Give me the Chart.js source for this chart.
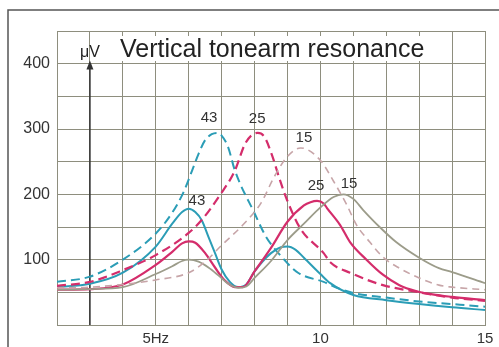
<!DOCTYPE html>
<html>
<head>
<meta charset="utf-8">
<script src="https://cdn.jsdelivr.net/npm/chart.js@4.4.1/dist/chart.umd.min.js"></script>
<style>
  body { margin: 0; background: #fff; }
  canvas { display: block; }
</style>
</head>
<body>
<canvas id="myChart" width="499" height="347"></canvas>
<script>
// frequency (Hz) and amplitude (uV)
const hz43Solid = [2, 3, 4, 5, 5.5, 5.8, 6, 6.2, 6.4, 6.6, 6.8, 7, 7.25, 7.5, 7.75, 8, 8.5, 8.8, 9, 9.25, 9.5, 10, 10.3, 11, 12, 13, 14, 15];
const uv43Solid = [58, 63, 80, 120, 155, 173, 178, 173, 160, 135, 110, 85, 66, 58, 62, 82, 110, 119, 120, 115, 103, 78, 64, 46, 38, 32, 27, 23];

const hz25Solid = [2, 3, 4, 5, 5.5, 5.8, 6, 6.2, 6.5, 6.8, 7.1, 7.4, 7.65, 8, 8.5, 9, 9.5, 9.7, 9.9, 10.1, 10.2, 10.6, 10.9, 11.4, 11.9, 12.4, 12.9, 13.5, 14, 15];
const uv25Solid = [54, 55, 62, 92, 112, 125, 128, 126, 110, 88, 68, 58, 58, 82, 118, 158, 183, 188, 190, 186, 179, 153, 127, 100, 77, 61, 52, 46, 43, 38];

const hz15Solid = [2, 3, 4, 5, 5.5, 5.8, 6, 6.3, 6.6, 6.9, 7.2, 7.5, 7.75, 8, 8.5, 9, 9.5, 10, 10.4, 10.7, 11, 11.3, 11.8, 12.3, 13, 13.6, 14, 15];
const uv15Solid = [54, 55, 58, 78, 90, 98, 100, 97, 88, 76, 63, 57, 59, 72, 98, 130, 155, 180, 196, 200, 193, 176, 150, 127, 103, 87, 81, 64];

const hz43Dash = [2, 3, 4, 5, 5.5, 5.85, 6.1, 6.3, 6.5, 6.7, 6.85, 7, 7.2, 7.4, 8, 8.35, 8.83, 9.32, 10.1, 10.5, 11, 12, 13, 14, 15];
const uv43Dash = [66, 74, 100, 140, 172, 204, 236, 262, 283, 292, 294, 290, 272, 237, 171, 135, 104, 80, 66, 57, 49, 42, 36, 32, 28];

const hz25Dash = [2, 3, 4, 5, 6, 6.4, 6.95, 7.4, 7.7, 7.9, 8.1, 8.3, 8.53, 8.77, 8.99, 9.4, 10.1, 10.3, 10.9, 11.9, 12.9, 14, 15];
const uv25Dash = [60, 66, 84, 107, 141, 161, 199, 236, 276, 290, 294, 288, 260, 222, 191, 147, 110, 96, 80, 61, 51, 42, 37];

const hz15Dash = [2, 3, 4, 5, 6, 6.5, 7, 7.7, 8.2, 8.6, 9, 9.4, 10, 10.4, 10.8, 11.1, 11.5, 11.9, 12.4, 13, 13.6, 14, 15];
const uv15Dash = [57, 58, 62, 69, 80, 97, 122, 156, 187, 227, 258, 271, 252, 220, 184, 153, 127, 104, 87, 72, 61, 58, 54];

const xTickLabels = {5: '5Hz', 10: '10', 15: '15'};
const yTickLabels = [100, 200, 300, 400];

// curve tags: text, Hz, uV
const curveTags = [
    ['43', 6.62, 317], ['25', 8.08, 315], ['15', 9.5, 286],
    ['43', 6.25, 190], ['25', 9.87, 213], ['15', 10.87, 216]
];

const teal = '#2b9db6';
const magenta = '#d42d6b';
const gray = '#9c9c8a';
const grayPink = '#c7a5a8';
const gridColor = '#8e8e7e';

function pts(xs, ys) {
    return xs.map((x, i) => ({x: x, y: ys[i]}));
}

function line(xs, ys, color, dash, width) {
    return {
        data: pts(xs, ys),
        borderColor: color,
        borderWidth: width,
        borderDash: dash,
        pointRadius: 0,
        fill: false,
        cubicInterpolationMode: 'monotone'
    };
}

const extras = {
    id: 'extras',
    beforeDatasetsDraw(chart) {
        const ctx = chart.ctx;
        const x = chart.scales.x.getPixelForValue(3);
        const bottom = chart.chartArea.bottom;
        const tip = chart.scales.y.getPixelForValue(405);
        ctx.save();
        ctx.strokeStyle = '#333';
        ctx.fillStyle = '#333';
        ctx.lineWidth = 1.5;
        ctx.beginPath();
        ctx.moveTo(x, bottom);
        ctx.lineTo(x, tip + 6);
        ctx.stroke();
        ctx.beginPath();
        ctx.moveTo(x, tip);
        ctx.lineTo(x - 3.5, tip + 9);
        ctx.lineTo(x + 3.5, tip + 9);
        ctx.closePath();
        ctx.fill();
        ctx.restore();
    },
    afterDraw(chart) {
        const ctx = chart.ctx;
        const sx = chart.scales.x, sy = chart.scales.y;
        ctx.save();
        // outer frame
        ctx.strokeStyle = '#555';
        ctx.lineWidth = 1.5;
        ctx.beginPath();
        ctx.moveTo(8, 347);
        ctx.lineTo(8, 10);
        ctx.lineTo(499, 10);
        ctx.stroke();

        // title on white patch
        ctx.fillStyle = '#fff';
        ctx.fillRect(114, 36, 312, 25);
        ctx.fillStyle = '#222';
        ctx.font = '25px "Liberation Sans", Arial, sans-serif';
        ctx.textAlign = 'left';
        ctx.textBaseline = 'alphabetic';
        ctx.fillText('Vertical tonearm resonance', 120, 57);

        ctx.font = '16px "Liberation Sans", Arial, sans-serif';
        ctx.textAlign = 'center';
        ctx.fillText('\u03bcV', sx.getPixelForValue(3), 57);

        ctx.fillStyle = '#333';
        ctx.font = '15px "Liberation Sans", Arial, sans-serif';
        ctx.textBaseline = 'middle';
        for (const [t, hz, uv] of curveTags) {
            ctx.fillText(t, sx.getPixelForValue(hz), sy.getPixelForValue(uv));
        }
        ctx.restore();
    }
};

const ctx = document.getElementById('myChart');
const myChart = new Chart(ctx, {
    type: 'line',
    data: {
        datasets: [
            line(hz15Dash, uv15Dash, grayPink, [7, 5], 1.6),
            line(hz15Solid, uv15Solid, gray, [], 1.8),
            line(hz25Dash, uv25Dash, magenta, [9, 5], 2.2),
            line(hz25Solid, uv25Solid, magenta, [], 2.2),
            line(hz43Dash, uv43Dash, teal, [9, 5], 2),
            line(hz43Solid, uv43Solid, teal, [], 2)
        ]
    },
    options: {
        responsive: false,
        animation: false,
        layout: {
            padding: {top: 31, right: 14, left: 0, bottom: 0}
        },
        plugins: {
            legend: {display: false},
            tooltip: {enabled: false}
        },
        scales: {
            x: {
                type: 'linear',
                min: 2,
                max: 15,
                afterFit: (s) => { s.height = 22; },
                grid: {color: gridColor, lineWidth: 1, drawTicks: false},
                border: {color: gridColor},
                ticks: {
                    stepSize: 1,
                    autoSkip: false,
                    maxRotation: 0,
                    padding: 5,
                    color: '#333',
                    font: {size: 15, family: '"Liberation Sans", Arial, sans-serif'},
                    callback: (v) => xTickLabels[v] || ''
                }
            },
            y: {
                min: 0,
                max: 450,
                afterFit: (s) => { s.width = 57; },
                grid: {color: gridColor, lineWidth: 1, drawTicks: false},
                border: {color: gridColor},
                ticks: {
                    stepSize: 50,
                    padding: 7,
                    color: '#333',
                    font: {size: 16, family: '"Liberation Sans", Arial, sans-serif'},
                    callback: (v) => yTickLabels.includes(v) ? String(v) : ''
                }
            }
        }
    },
    plugins: [extras]
});
</script>
</body>
</html>
